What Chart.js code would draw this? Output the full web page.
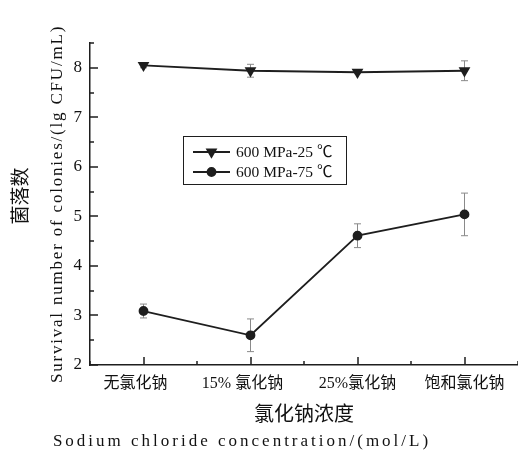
<!DOCTYPE html>
<html><head><meta charset="utf-8">
<script src="https://cdn.jsdelivr.net/npm/chart.js@4.4.1/dist/chart.umd.min.js"></script>
<style>html,body{margin:0;padding:0;background:#fff;} #wrap{width:518px;height:450px;position:relative;}</style>
</head><body><div id="wrap"><canvas id="c"></canvas></div>
<script>
const categories = ['无氯化钠\u3000', '15% 氯化钠\u3000', '25%氯化钠', '饱和氯化钠'];
const series25 = [8.05, 7.94, 7.91, 7.94];
const err25 = [0.05, 0.13, 0.03, 0.20];
const series75 = [3.09, 2.60, 4.61, 5.04];
const err75 = [0.14, 0.33, 0.24, 0.43];
const seriesLabels = ['600 MPa-25 ℃', '600 MPa-75 ℃'];
const yMin = 2, yMax = 8.5;
const yMajorTicks = [2, 3, 4, 5, 6, 7, 8];
const yMinorTicks = [2.5, 3.5, 4.5, 5.5, 6.5, 7.5, 8.5];
const yTitleCn = '菌落数';
const yTitleEn = 'Survival number of colonies/(lg CFU/mL)';
const xTitleCn = '氯化钠浓度';
const xTitleEn = 'Sodium chloride concentration/(mol/L)';

const FONT = "'Liberation Serif', 'Noto Sans CJK SC', serif";
const INK = '#1e1e1e';

function spaced(scale, px, dx, dy) {
  if (scale._spacedWrapped) return;
  scale._spacedWrapped = true;
  const orig = scale.drawTitle;
  scale.drawTitle = function () {
    const ctx = this.ctx;
    ctx.save();
    ctx.letterSpacing = px;
    ctx.translate(dx || 0, dy || 0);
    orig.apply(this, arguments);
    ctx.restore();
  };
}
function noPad(s) { s.paddingLeft = 0; s.paddingRight = 0; s.paddingTop = 0; s.paddingBottom = 0; }

const errorBars = {
  id: 'errorBars',
  beforeDatasetsDraw(chart) {
    const ctx = chart.ctx, xs = chart.scales.x, ys = chart.scales.y;
    const sets = [[series25, err25], [series75, err75]];
    ctx.save();
    ctx.strokeStyle = '#8a8a8a';
    ctx.lineWidth = 1;
    sets.forEach(([vals, errs]) => {
      vals.forEach((v, i) => {
        const x = xs.getPixelForValue(i);
        const yt = ys.getPixelForValue(v + errs[i]);
        const yb = ys.getPixelForValue(v - errs[i]);
        ctx.beginPath();
        ctx.moveTo(x, yt); ctx.lineTo(x, yb);
        ctx.moveTo(x - 3.5, yt); ctx.lineTo(x + 3.5, yt);
        ctx.moveTo(x - 3.5, yb); ctx.lineTo(x + 3.5, yb);
        ctx.stroke();
      });
    });
    ctx.restore();
  }
};

const axisTicks = {
  id: 'axisTicks',
  afterDraw(chart) {
    const ctx = chart.ctx, xs = chart.scales.x, ys = chart.scales.y;
    const left = ys.right, bottom = xs.top;
    ctx.save();
    ctx.strokeStyle = INK;
    ctx.lineWidth = 1.5;
    ctx.beginPath();
    yMajorTicks.forEach(v => { const y = Math.round(ys.getPixelForValue(v)); ctx.moveTo(left, y); ctx.lineTo(left + 8, y); });
    yMinorTicks.forEach(v => { const y = Math.round(ys.getPixelForValue(v)); ctx.moveTo(left, y); ctx.lineTo(left + 4, y); });
    categories.forEach((c, i) => {
      const x = Math.round(xs.getPixelForValue(i)); ctx.moveTo(x, bottom); ctx.lineTo(x, bottom - 8);
    });
    for (let i = 0; i <= categories.length; i++) {
      const x = Math.round(xs.getPixelForValue(i - 0.5)); ctx.moveTo(x, bottom); ctx.lineTo(x, bottom - 4);
    }
    ctx.stroke();
    ctx.restore();
  }
};

const legendBox = {
  id: 'legendBox',
  afterDraw(chart) {
    const ctx = chart.ctx;
    const bx = 183.5, by = 136.5, bw = 163, bh = 48;
    ctx.save();
    ctx.fillStyle = '#fff';
    ctx.fillRect(bx, by, bw, bh);
    ctx.strokeStyle = INK; ctx.lineWidth = 1;
    ctx.strokeRect(bx, by, bw, bh);
    chart.data.datasets.forEach((ds, i) => {
      const y = 152 + i * 20;
      ctx.strokeStyle = INK; ctx.lineWidth = 1.8;
      ctx.beginPath(); ctx.moveTo(193, y); ctx.lineTo(230, y); ctx.stroke();
      ctx.fillStyle = INK;
      Chart.helpers.drawPoint(ctx, { pointStyle: ds.pointStyle, rotation: ds.pointRotation || 0, radius: ds.pointRadius, borderWidth: 1 }, 211.5, y);
      ctx.fillStyle = '#111';
      ctx.font = "15.5px " + FONT;
      ctx.textBaseline = 'middle';
      ctx.textAlign = 'left';
      ctx.fillText(ds.label, 236, y + 1);
    });
    ctx.restore();
  }
};

new Chart(document.getElementById('c'), {
  type: 'line',
  data: {
    labels: categories,
    datasets: [
      { label: seriesLabels[0], data: series25, xAxisID: 'x', yAxisID: 'y',
        borderColor: INK, backgroundColor: INK, borderWidth: 1.8,
        pointStyle: 'triangle', pointRotation: 180, pointRadius: 5, pointHoverRadius: 5,
        pointBackgroundColor: INK, pointBorderColor: INK, tension: 0, clip: false },
      { label: seriesLabels[1], data: series75, xAxisID: 'x', yAxisID: 'y',
        borderColor: INK, backgroundColor: INK, borderWidth: 1.8,
        pointStyle: 'circle', pointRadius: 4, pointHoverRadius: 4,
        pointBackgroundColor: INK, pointBorderColor: INK, tension: 0, clip: false }
    ]
  },
  options: {
    responsive: true,
    maintainAspectRatio: false,
    animation: false,
    events: [],
    layout: { autoPadding: false, padding: { top: 43, right: 0, left: 0, bottom: 0 } },
    plugins: { legend: { display: false }, tooltip: { enabled: false } },
    scales: {
      x: {
        type: 'category', position: 'bottom', offset: true, weight: 0,
        grid: { display: false, drawTicks: false },
        border: { display: true, color: INK, width: 1.5 },
        ticks: { color: '#111', padding: 9, font: { family: FONT, size: 16 }, maxRotation: 0, autoSkip: false },
        title: { display: true, text: xTitleCn, color: '#111', font: { family: FONT, size: 20 }, padding: { top: 0, bottom: 2 } },
        afterFit(s) { s.height = 65; noPad(s); }
      },
      x2: {
        type: 'linear', axis: 'x', position: 'bottom', weight: 1,
        grid: { display: false, drawTicks: false }, border: { display: false },
        ticks: { display: false },
        title: { display: true, text: xTitleEn, color: '#111', font: { family: FONT, size: 17, lineHeight: 1.0 }, padding: { top: 0, bottom: 0 } },
        afterFit(s) { s.height = 20; noPad(s); spaced(s, '3px', -62, 0); }
      },
      y: {
        type: 'linear', position: 'left', min: yMin, max: yMax, weight: 0,
        grid: { display: false, drawTicks: false },
        border: { display: true, color: INK, width: 1.5 },
        ticks: { stepSize: 1, includeBounds: false, color: '#111', padding: 8, font: { family: FONT, size: 17 } },
        title: { display: true, text: yTitleEn, color: '#111', font: { family: FONT, size: 17 }, padding: { top: 7, bottom: 0 } },
        afterFit(s) { s.width = 50; noPad(s); spaced(s, '1.8px', 0, 0); }
      },
      y2: {
        type: 'linear', axis: 'y', position: 'left', weight: 1,
        grid: { display: false, drawTicks: false }, border: { display: false },
        ticks: { display: false },
        title: { display: true, text: yTitleCn, color: '#111', font: { family: FONT, size: 19 }, padding: { top: 10.5, bottom: 0 } },
        afterFit(s) { s.width = 40; noPad(s); spaced(s, '0px', 0, -8); }
      }
    }
  },
  plugins: [errorBars, axisTicks, legendBox]
});
</script>
</body></html>
